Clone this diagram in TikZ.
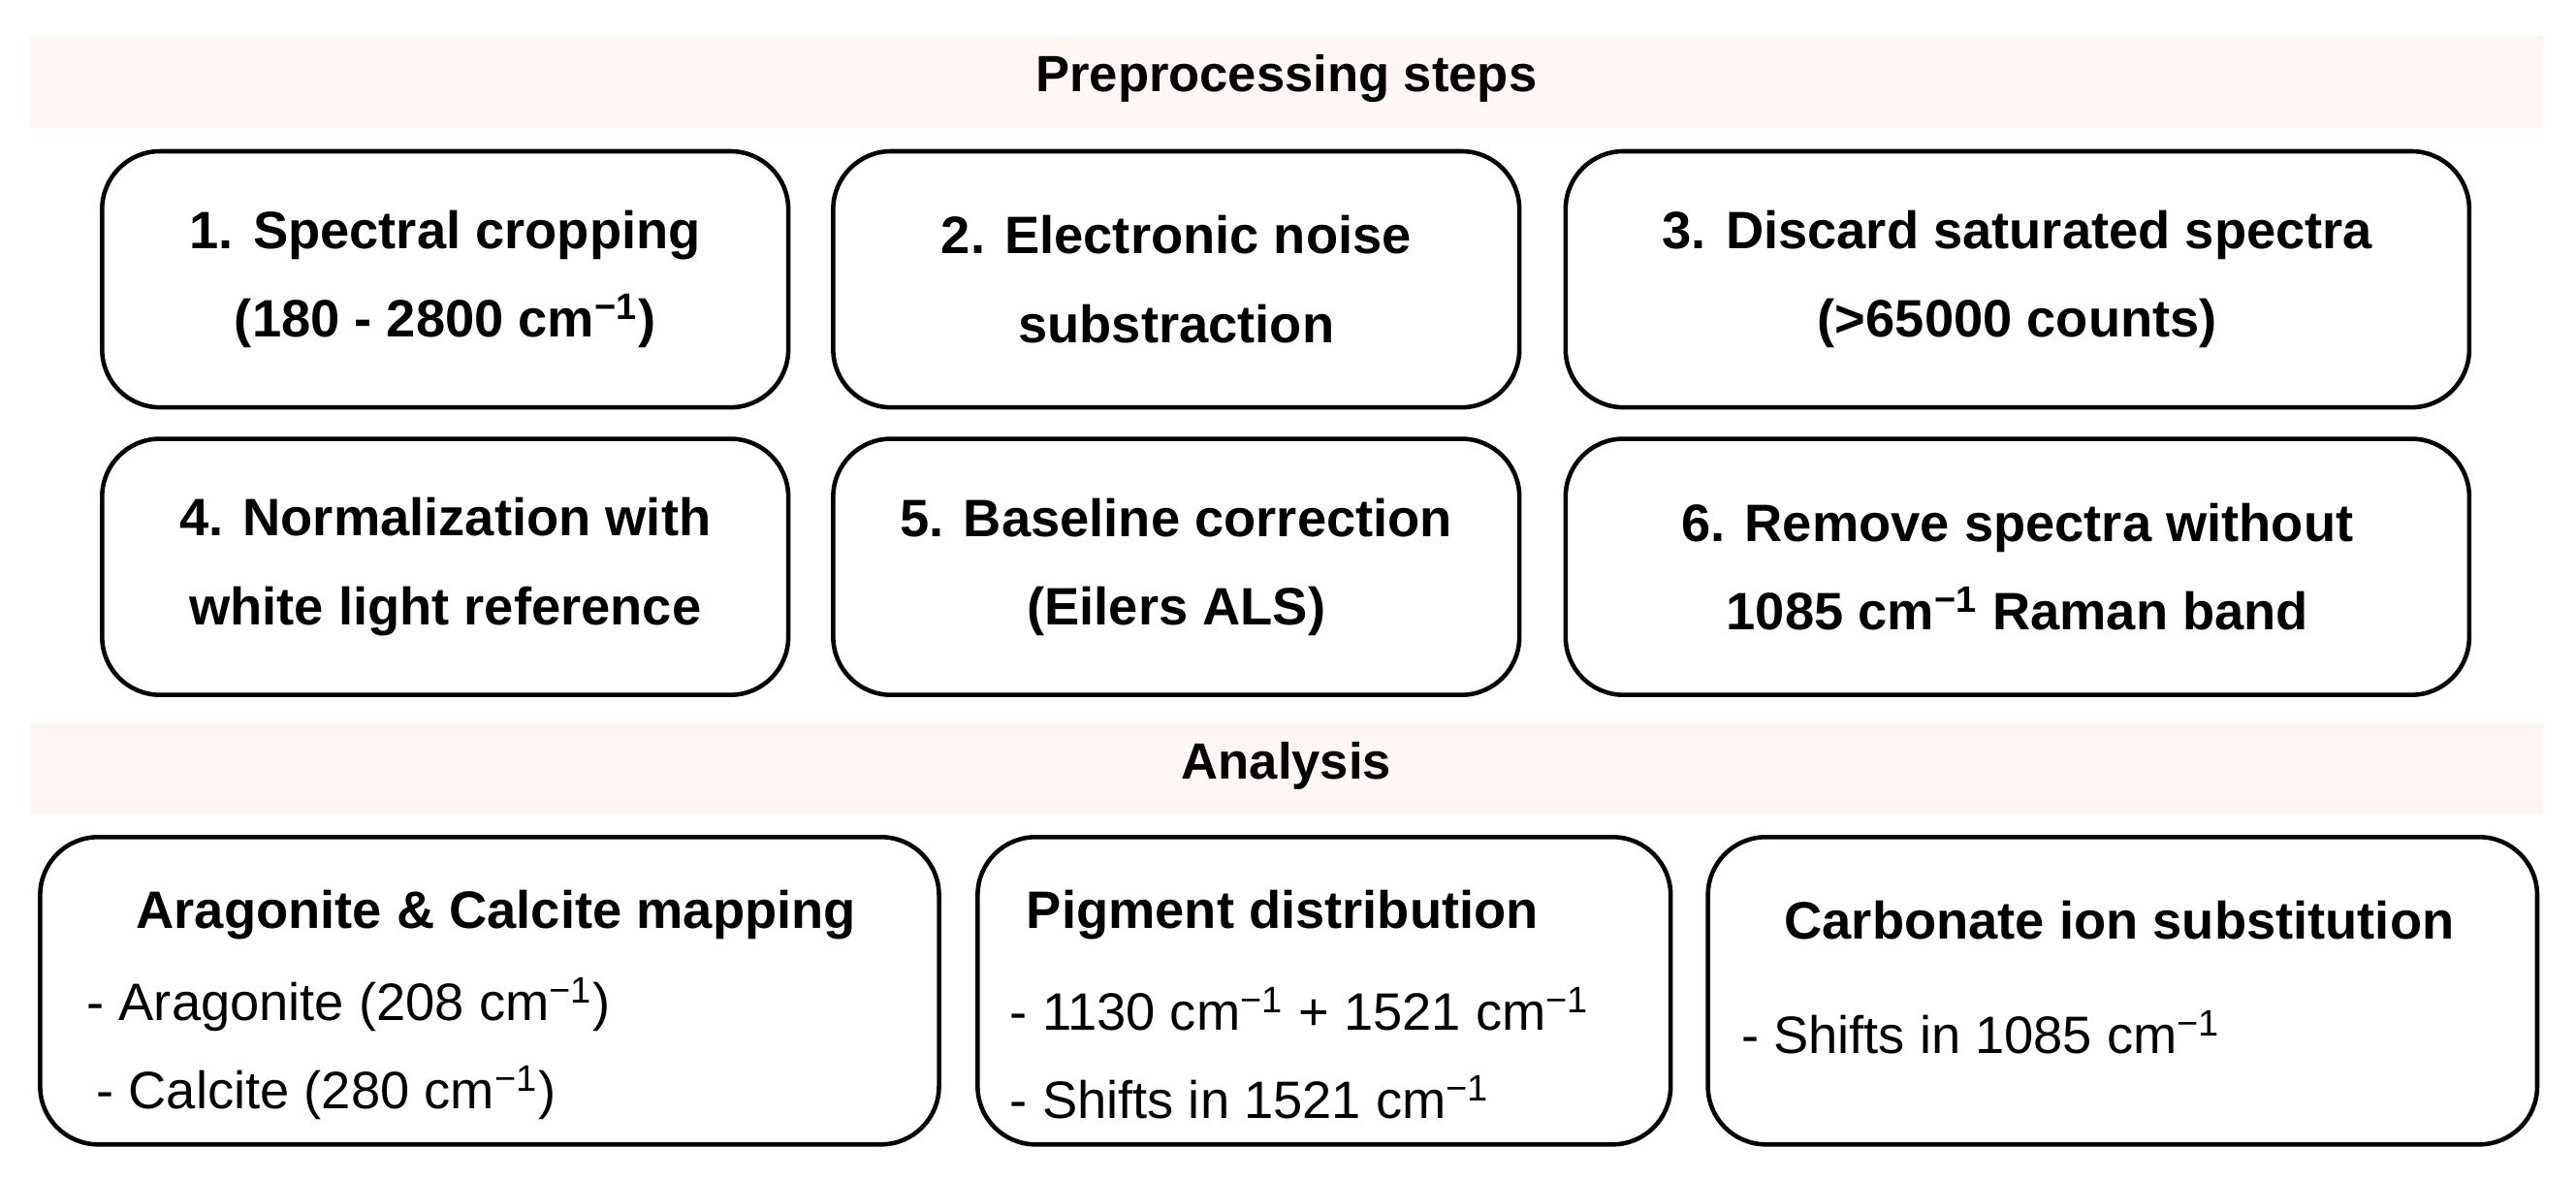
\documentclass[tikz,border=0pt]{standalone}
\usepackage{fontspec}
\setmainfont{Liberation Sans}
\usetikzlibrary{positioning}
\newcommand{\inv}{\textsuperscript{−1}}
\begin{document}
\begin{tikzpicture}[x=0.017cm,y=-0.017cm,every node/.style={outer sep=0pt},
        stepbox/.style={draw,line width=1.3pt,rounded corners=0.6cm,align=center,minimum height=2.65cm,font=\fontsize{15.5}{26}\selectfont\bfseries},
        ana/.style={draw,line width=1.3pt,rounded corners=0.6cm,minimum height=3.18cm},
        title/.style={font=\fontsize{15.5}{18}\selectfont\bfseries},
        item/.style={align=left,font=\fontsize{15.5}{26}\selectfont}]
    \useasboundingbox (0,0) rectangle (1568,718);
    \fill[black!3!pink!15!white] (18,22) rectangle (1548,78);
    \node[font=\fontsize{15}{18}\selectfont\bfseries] (pre) at (783,48) {Preprocessing steps};
    % Preprocessing
    \node[stepbox,minimum width=7.1cm] (s1) at (271,170) {1. Spectral cropping\\(180 - 2800 cm\inv)};
    \node[stepbox,minimum width=7.1cm] (s2) at (716,170) {2. Electronic noise\\substraction};
    \node[stepbox,minimum width=9.35cm] (s3) at (1228,170) {3. Discard saturated spectra\\(>65000 counts)};
    \node[stepbox,minimum width=7.1cm] (s4) at (271,345) {4. Normalization with\\white light reference};
    \node[stepbox,minimum width=7.1cm] (s5) at (716,345) {5. Baseline correction\\(Eilers ALS)};
    \node[stepbox,minimum width=9.35cm] (s6) at (1228,345) {6. Remove spectra without\\1085 cm\inv{} Raman band};
    % Analysis
    \fill[black!3!pink!15!white] (18,440) rectangle (1548,495);
    \node[font=\fontsize{15}{18}\selectfont\bfseries] (an) at (783,466) {Analysis};
    \node[ana,minimum width=9.3cm] (a1) at (298,603) {};
    \node[ana,minimum width=7.17cm] (a2) at (806,603) {};
    \node[ana,minimum width=8.58cm] (a3) at (1292,603) {};
    \node[title] (t1) at (302,557) {Aragonite \& Calcite mapping};
    \node[item,anchor=north west] (i1) at (46,588) {- Aragonite (208 cm\inv)\\\hspace{0.1cm}- Calcite (280 cm\inv)};
    \node[title,anchor=west] (t2) at (618,557) {Pigment distribution};
    \node[item,anchor=north west] (i2) at (608,594) {- 1130 cm\inv{} + 1521 cm\inv\\- Shifts in 1521 cm\inv};
    \node[title] (t3) at (1290,560) {Carbonate ion substitution};
    \node[item,anchor=north west] (i3) at (1053,608) {- Shifts in 1085 cm\inv};
\end{tikzpicture}
\end{document}
